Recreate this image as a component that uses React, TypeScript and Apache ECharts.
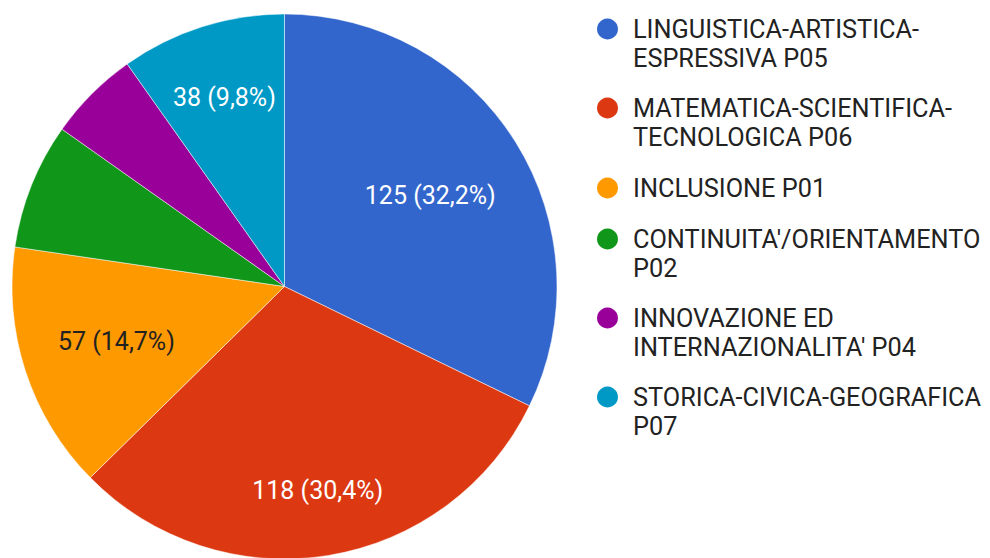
import React, { useEffect, useRef } from 'react';
import * as echarts from 'echarts';

// ---- data ----
const categories: string[] = [
  "LINGUISTICA-ARTISTICA-ESPRESSIVA P05",
  "MATEMATICA-SCIENTIFICA-TECNOLOGICA P06",
  "INCLUSIONE P01",
  "CONTINUITA'/ORIENTAMENTO P02",
  "INNOVAZIONE ED INTERNAZIONALITA' P04",
  "STORICA-CIVICA-GEOGRAFICA P07",
];
const values: number[] = [125, 118, 57, 29, 21, 38];

// ---- styles / layout ----
const colors = ['#3366cc', '#dc3912', '#ff9900', '#109618', '#990099', '#0099c6'];
const labelColors = ['#ffffff', '#ffffff', '#222222', '#ffffff', '#ffffff', '#ffffff'];
const CX = 284.5;
const CY = 286.5;
const R = 272.5;
const LABEL_RADIAL = [0.631, 0.757, 0.649, 0.6, 0.6, 0.728];
const LEGEND_ICON_CY = [29, 108, 188, 239, 318, 397];
const LINE_H = 29;
const FONT = 'Roboto';

function wrap(name: string, max = 25): string[] {
  const parts: { t: string; sp: boolean }[] = [];
  const re = /([^ -]+-?)( ?)/g;
  let m: RegExpExecArray | null;
  while ((m = re.exec(name))) parts.push({ t: m[1], sp: m[2] === ' ' });
  const lines: string[] = [];
  let cur = '';
  let prevSp = false;
  for (const p of parts) {
    const joiner = cur && prevSp ? ' ' : '';
    if (cur && (cur + joiner + p.t).length > max) {
      lines.push(cur);
      cur = p.t;
    } else cur = cur + joiner + p.t;
    prevSp = p.sp;
  }
  if (cur) lines.push(cur);
  return lines;
}

export default function App() {
  const ref = useRef<HTMLDivElement>(null);
  useEffect(() => {
    if (!ref.current) return;
    const chart = echarts.init(ref.current, undefined, { renderer: 'svg' });
    const total = values.reduce((a, b) => a + b, 0);

    const legends = categories.map((name, i) => {
      const lines = wrap(name);
      const text = '\n'.repeat(lines.length - 1) + lines.join('\n');
      const n = lines.length * 2 - 1;
      return {
        data: [name],
        orient: 'vertical',
        left: 597,
        top: LEGEND_ICON_CY[i] - (n * LINE_H) / 2,
        padding: 0,
        itemWidth: 41,
        itemHeight: 21,
        icon: 'circle',
        selectedMode: false,
        itemStyle: { borderWidth: 0 },
        formatter: () => text,
        textStyle: { fontFamily: FONT, fontSize: 25.3, color: '#222222', lineHeight: LINE_H },
      };
    });

    chart.setOption({
      animation: false,
      backgroundColor: '#ffffff',
      legend: legends,
      series: [
        {
          type: 'pie',
          center: [CX, CY],
          radius: R,
          startAngle: 90,
          clockwise: true,
          emphasis: { disabled: true },
          itemStyle: { borderColor: 'rgba(255,255,255,0.7)', borderWidth: 0.7 },
          labelLine: { show: false },
          label: {
            position: 'inside',
            fontFamily: FONT,
            fontSize: 25,
            formatter: (p: any) =>
              `${p.value} (${((p.value / total) * 100).toFixed(1).replace('.', ',')}%)`,
          },
          labelLayout: (p: any) => {
            const r = p.labelRect;
            const lx = r.x + r.width / 2;
            const ly = r.y + r.height / 2;
            const vx = lx - CX;
            const vy = ly - CY;
            const d = Math.hypot(vx, vy) || 1;
            const k = (LABEL_RADIAL[p.dataIndex] * R) / d;
            return { dx: vx * k - vx, dy: vy * k - vy };
          },
          data: categories.map((name, i) => ({
            name,
            value: values[i],
            itemStyle: { color: colors[i] },
            label: { color: labelColors[i], show: values[i] / total >= 0.08 },
          })),
        },
      ],
    });
    return () => chart.dispose();
  }, []);
  return (
    <div
      ref={ref}
      style={{ position: 'fixed', left: 0, top: 0, width: 990, height: 558, background: '#fff' }}
    />
  );
}
